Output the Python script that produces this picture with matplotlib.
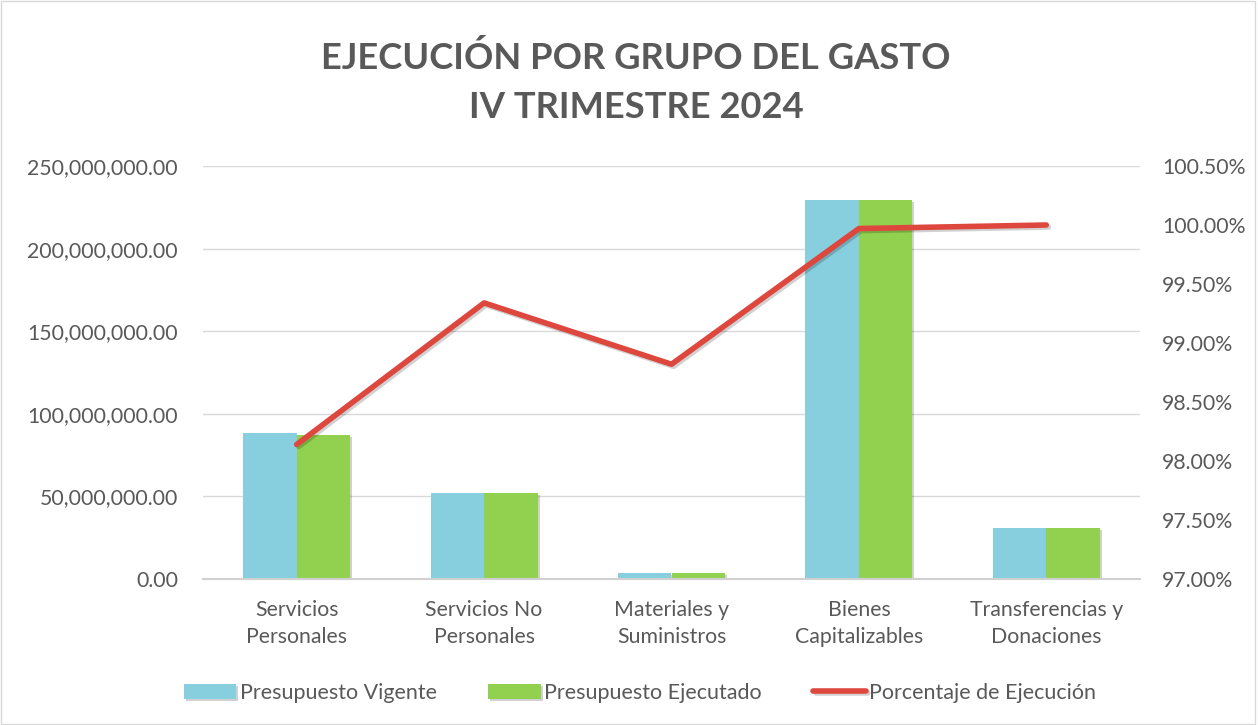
import matplotlib
matplotlib.use("Agg")
import matplotlib.pyplot as plt
import matplotlib.patheffects as pe
from matplotlib.patches import Rectangle
from matplotlib.ticker import FuncFormatter
import numpy as np

categories = ["Servicios\nPersonales", "Servicios No\nPersonales", "Materiales y\nSuministros",
              "Bienes\nCapitalizables", "Transferencias y\nDonaciones"]
vigente = [88.4e6, 52.2e6, 3.6e6, 229.5e6, 30.9e6]
ejecutado = [87.2e6, 52.0e6, 3.6e6, 229.5e6, 30.9e6]
porcentaje = [98.14, 99.34, 98.82, 99.97, 100.0]
left_ticks = [0, 50e6, 100e6, 150e6, 200e6, 250e6]
right_ticks = [97.0, 97.5, 98.0, 98.5, 99.0, 99.5, 100.0, 100.5]

FONT = "Lato"
GRAY = "#595959"
C_VIG = "#87cfdf"
C_EJE = "#92d050"
C_LINE = "#de473d"
FS = 15.3

fig = plt.figure(figsize=(12.58, 7.25), dpi=100)
fig.patches.append(Rectangle((0.001, 0.001), 0.997, 0.997, transform=fig.transFigure,
                             fill=False, edgecolor="#d9d9d9", linewidth=1))
ax = fig.add_axes([203 / 1258, 1 - 579 / 725, 937 / 1258, 413 / 725])
x = np.arange(len(categories))
w = 0.285
shadow = [pe.SimplePatchShadow(offset=(1.5, -1.5), shadow_rgbFace="#000000", alpha=0.18), pe.Normal()]
b1 = ax.bar(x - w / 2, vigente, w, color=C_VIG, label="Presupuesto Vigente", zorder=2)
b2 = ax.bar(x + w / 2, ejecutado, w, color=C_EJE, label="Presupuesto Ejecutado", zorder=2)
for b in list(b1) + list(b2):
    b.set_path_effects(shadow)
ax.set_xlim(-0.5, len(categories) - 0.5)
ax.set_ylim(0, 250e6)
ax.set_yticks(left_ticks)
ax.yaxis.set_major_formatter(FuncFormatter(lambda v, p: f"{v:,.2f}"))
ax.grid(axis="y", color="#d9d9d9", linewidth=1, zorder=0)
ax.set_axisbelow(True)
for s in ["top", "right", "left"]:
    ax.spines[s].set_visible(False)
ax.spines["bottom"].set_color("#d0d0d0")
ax.spines["bottom"].set_linewidth(1.5)
ax.set_xticks(x)
ax.set_xticklabels(categories, fontsize=FS, color=GRAY, family=FONT, linespacing=1.42)
ax.tick_params(axis="both", length=0, colors=GRAY, labelsize=FS)
ax.tick_params(axis="x", pad=15)
ax.tick_params(axis="y", pad=18)
for t in ax.get_yticklabels():
    t.set_family(FONT)

ax2 = ax.twinx()
ln, = ax2.plot(x, porcentaje, color=C_LINE, linewidth=4, solid_capstyle="round",
               solid_joinstyle="round", label="Porcentaje de Ejecución", zorder=3)
ln.set_path_effects([pe.SimpleLineShadow(offset=(1.5, -1.5), alpha=0.18), pe.Normal()])
ax2.set_ylim(97.0, 100.5)
ax2.set_yticks(right_ticks)
ax2.yaxis.set_major_formatter(FuncFormatter(lambda v, p: f"{v:.2f}%"))
ax2.tick_params(axis="y", length=0, colors=GRAY, labelsize=FS, pad=16)
for t in ax2.get_yticklabels():
    t.set_family(FONT)
for s in ax2.spines.values():
    s.set_visible(False)

fig.text(636 / 1258, 1 - 58 / 725, "EJECUCIÓN POR GRUPO DEL GASTO", ha="center", va="center",
         fontsize=26.2, fontweight="bold", color=GRAY, family=FONT)
fig.text(636 / 1258, 1 - 108 / 725, "IV TRIMESTRE 2024", ha="center", va="center",
         fontsize=26.2, fontweight="bold", color=GRAY, family=FONT)

handles = [b1, b2, ln]
leg = fig.legend(handles, [h.get_label() for h in handles], loc="center",
                 bbox_to_anchor=(640 / 1258, 1 - 693 / 725), ncol=3, frameon=False,
                 prop={"family": FONT, "size": 15.5}, handlelength=2.45, handleheight=0.75,
                 handletextpad=0.15, columnspacing=2.4, labelcolor=GRAY)
fig.savefig("out.png", dpi=100)
